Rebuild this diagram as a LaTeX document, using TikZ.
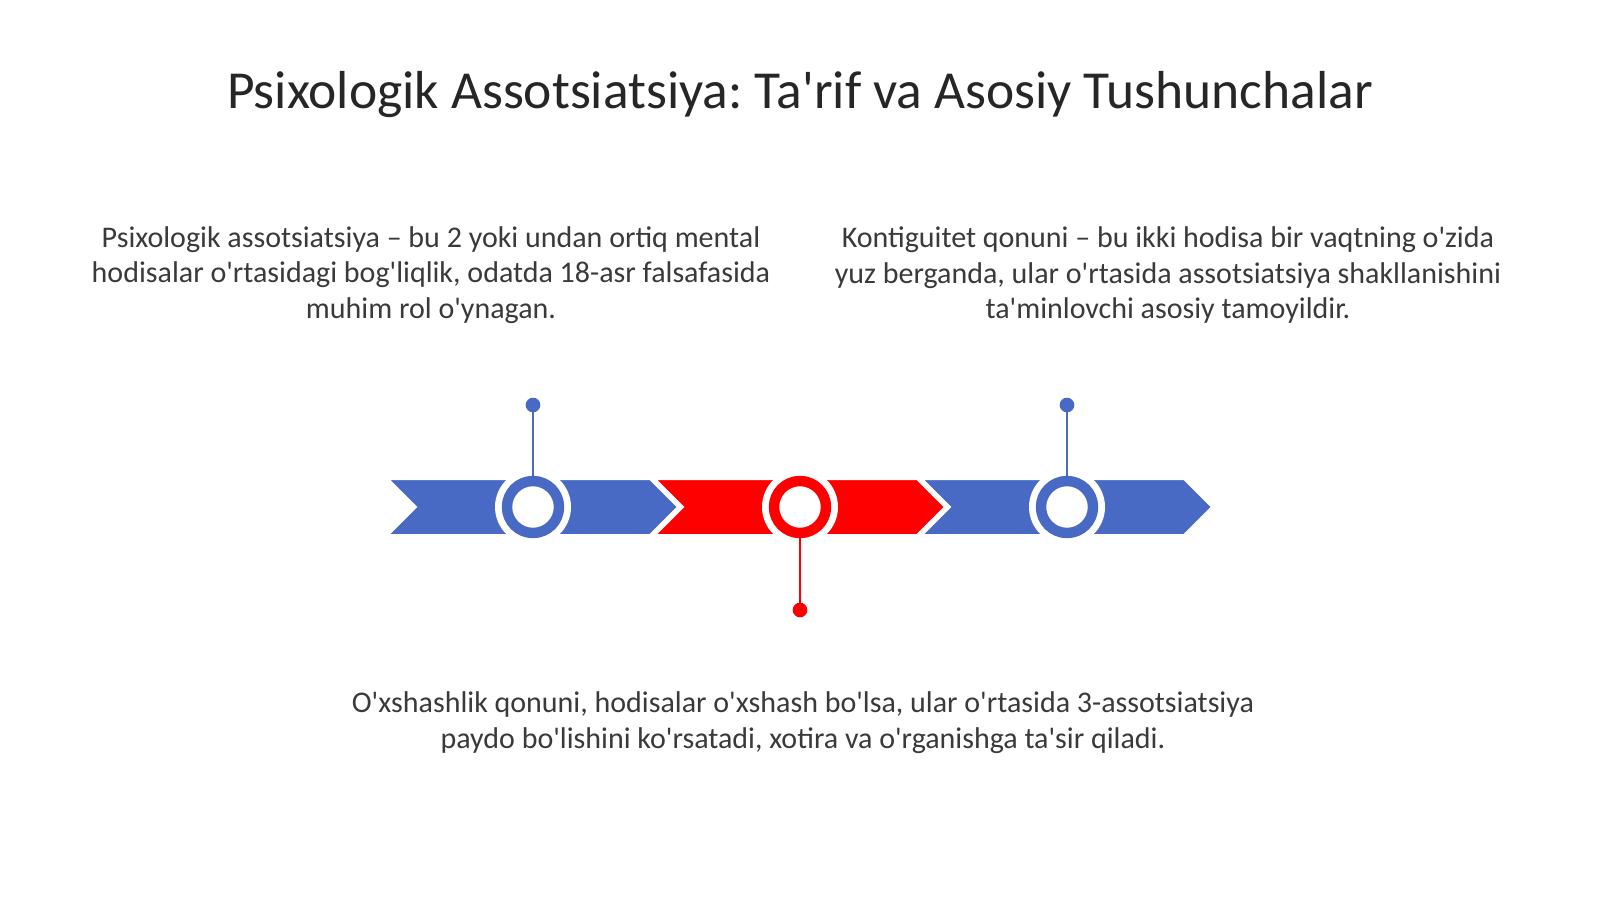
\documentclass[tikz,border=0pt]{standalone}
\usepackage{fontspec}
\setmainfont{Carlito}[Ligatures=TeXOff]
\definecolor{myblue}{RGB}{72,106,196}
\definecolor{myred}{RGB}{255,0,0}
\definecolor{titlecol}{RGB}{38,38,38}
\definecolor{bodycol}{RGB}{58,58,58}
\begin{document}
\frenchspacing
\begin{tikzpicture}[x=0.75pt,y=-0.75pt,
  titletext/.style={text=titlecol,font=\fontsize{40.1}{46}\selectfont,inner sep=0pt},
  bodytext/.style={text=bodycol,font=\fontsize{22.5}{26.8}\selectfont,align=center,inner sep=0pt},
  chev/.style={draw=white,line width=1.5pt},
  ringout/.style={circle,fill=white,minimum size=57pt,inner sep=0pt},
  ring/.style={circle,fill=white,draw=#1,line width=7.8pt,minimum size=39pt,inner sep=0pt},
  stem/.style={draw=#1,line width=2.2pt},
  dotnode/.style={circle,fill=#1,minimum size=11pt,inner sep=0pt}
]
\useasboundingbox (0,0) rectangle (1600,899);
\fill[white] (0,0) rectangle (1600,899);

\node[titletext] (title) at (800,95) {Psixologik Assotsiatsiya: Ta'rif va Asosiy Tushunchalar};

\node[bodytext] (p1) at (431,275) {Psixologik assotsiatsiya – bu 2 yoki undan ortiq mental\\hodisalar o'rtasidagi bog'liqlik, odatda 18-asr falsafasida\\muhim rol o'ynagan.};
\node[bodytext] (p2) at (1168,275) {Kontiguitet qonuni – bu ikki hodisa bir vaqtning o'zida\\yuz berganda, ular o'rtasida assotsiatsiya shakllanishini\\ta'minlovchi asosiy tamoyildir.};
\node[bodytext] (p3) at (803,723) {O'xshashlik qonuni, hodisalar o'xshash bo'lsa, ular o'rtasida 3-assotsiatsiya\\paydo bo'lishini ko'rsatadi, xotira va o'rganishga ta'sir qiladi.};

% chevrons
\foreach \L/\c in {388/myblue,655/myred,922/myblue}{
  \filldraw[chev,fill=\c] (\L,479) -- ++(262,0) -- ++(28,28) -- ++(-28,28) -- ++(-262,0) -- ++(28,-28) -- cycle;
}

% circles
\node[ringout] (o1) at (533,507) {};
\node[ringout] (o2) at (800,507) {};
\node[ringout] (o3) at (1067,507) {};
\node[ring=myblue] (c1) at (533,507) {};
\node[ring=myred] (c2) at (800,507) {};
\node[ring=myblue] (c3) at (1067,507) {};

% stems
\node[dotnode=myblue] (d1) at (533,405) {};
\node[dotnode=myred] (d2) at (800,610) {};
\node[dotnode=myblue] (d3) at (1067,405) {};
\draw[stem=myblue] (c1.north) -- (d1.center);
\draw[stem=myred] (c2.south) -- (d2.center);
\draw[stem=myblue] (c3.north) -- (d3.center);
\end{tikzpicture}
\end{document}
